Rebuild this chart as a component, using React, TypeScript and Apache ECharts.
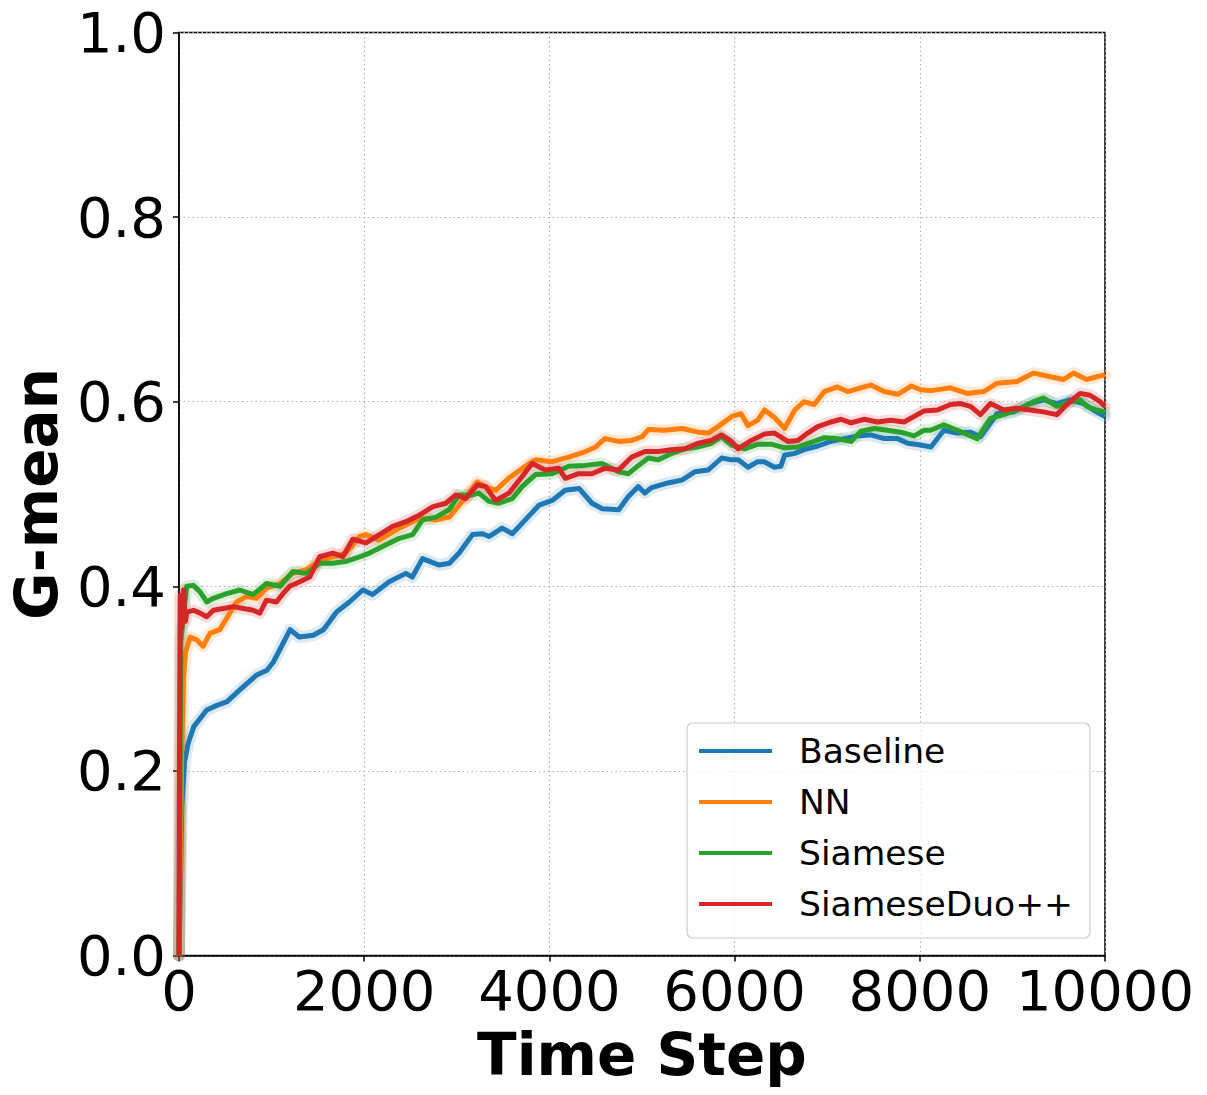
import React, { useEffect, useRef } from "react";
import * as echarts from "echarts";

const seriesNames = ["Baseline", "NN", "Siamese", "SiameseDuo++"];
const seriesColors = ["#1f77b4", "#ff7f0e", "#2ca02c", "#d62728"];

const xTicks = [0, 2000, 4000, 6000, 8000, 10000];
const yTicks = [0, 0.2, 0.4, 0.6, 0.8, 1.0];

const baseline: number[][] = [
  [0, 0.0], [20, 0.1], [30, 0.16], [60, 0.21], [100, 0.23], [160, 0.248], [300, 0.266], [410, 0.271],
  [520, 0.275], [660, 0.288], [840, 0.304], [950, 0.309], [1020, 0.318], [1200, 0.353], [1300, 0.345],
  [1450, 0.347], [1560, 0.353], [1700, 0.372], [1840, 0.383], [1985, 0.396], [2090, 0.391], [2270, 0.405],
  [2450, 0.414], [2520, 0.41], [2630, 0.43], [2810, 0.423], [2920, 0.425], [3025, 0.436], [3170, 0.456],
  [3280, 0.457], [3350, 0.454], [3490, 0.463], [3600, 0.457], [3740, 0.472], [3890, 0.488], [4030, 0.493],
  [4170, 0.504], [4320, 0.506], [4460, 0.49], [4570, 0.484], [4750, 0.483], [4850, 0.497], [4960, 0.508],
  [5030, 0.501], [5105, 0.507], [5280, 0.512], [5430, 0.515], [5570, 0.524], [5715, 0.526], [5860, 0.539],
  [5970, 0.537], [6040, 0.537], [6145, 0.529], [6250, 0.535], [6320, 0.535], [6430, 0.529], [6500, 0.53],
  [6540, 0.542], [6650, 0.544], [6750, 0.548], [6900, 0.552], [7040, 0.557], [7185, 0.56], [7330, 0.563],
  [7470, 0.564], [7615, 0.56], [7760, 0.56], [7870, 0.555], [8010, 0.553], [8120, 0.551], [8260, 0.569],
  [8400, 0.566], [8550, 0.567], [8655, 0.562], [8835, 0.587], [9015, 0.589], [9190, 0.598], [9340, 0.602],
  [9480, 0.598], [9620, 0.602], [9770, 0.598], [9875, 0.591], [10000, 0.584],
];

const nn: number[][] = [
  [0, 0.0], [15, 0.1], [30, 0.22], [48, 0.3], [70, 0.328], [120, 0.345], [190, 0.342], [260, 0.335],
  [335, 0.349], [440, 0.353], [550, 0.371], [620, 0.383], [730, 0.389], [840, 0.387], [945, 0.398],
  [1090, 0.403], [1230, 0.414], [1375, 0.418], [1520, 0.427], [1660, 0.432], [1800, 0.436], [1880, 0.445],
  [1950, 0.454], [2020, 0.456], [2160, 0.45], [2380, 0.463], [2600, 0.474], [2770, 0.472], [2920, 0.475],
  [3060, 0.492], [3220, 0.513], [3310, 0.508], [3420, 0.504], [3560, 0.517], [3710, 0.528], [3850, 0.537],
  [4030, 0.535], [4210, 0.54], [4390, 0.546], [4500, 0.551], [4600, 0.56], [4750, 0.557], [4890, 0.558],
  [5000, 0.562], [5070, 0.57], [5250, 0.569], [5430, 0.571], [5610, 0.567], [5715, 0.566], [5820, 0.573],
  [5970, 0.584], [6070, 0.587], [6145, 0.574], [6250, 0.58], [6324, 0.591], [6430, 0.583], [6540, 0.571],
  [6650, 0.591], [6750, 0.6], [6860, 0.597], [6970, 0.611], [7110, 0.616], [7220, 0.611], [7400, 0.616],
  [7470, 0.618], [7615, 0.611], [7760, 0.608], [7910, 0.617], [8010, 0.613], [8120, 0.612], [8330, 0.615],
  [8510, 0.609], [8690, 0.611], [8835, 0.62], [9050, 0.622], [9230, 0.631], [9410, 0.627], [9550, 0.624],
  [9660, 0.631], [9800, 0.624], [9910, 0.627], [10000, 0.629],
];

const siamese: number[][] = [
  [0, 0.0], [10, 0.15], [20, 0.34], [50, 0.37], [84, 0.4], [156, 0.401], [228, 0.394], [300, 0.383],
  [371, 0.387], [515, 0.392], [658, 0.396], [801, 0.391], [945, 0.403], [1089, 0.4], [1232, 0.416],
  [1375, 0.414], [1519, 0.425], [1662, 0.425], [1805, 0.427], [1949, 0.432], [2057, 0.436], [2236, 0.445],
  [2380, 0.452], [2523, 0.456], [2630, 0.472], [2774, 0.475], [2918, 0.483], [3025, 0.499], [3168, 0.499],
  [3240, 0.501], [3348, 0.492], [3456, 0.49], [3599, 0.495], [3706, 0.508], [3850, 0.521], [4029, 0.522],
  [4209, 0.53], [4387, 0.531], [4567, 0.533], [4747, 0.524], [4854, 0.522], [4962, 0.531], [5069, 0.539],
  [5177, 0.537], [5320, 0.544], [5463, 0.549], [5607, 0.551], [5750, 0.555], [5858, 0.562], [5966, 0.553],
  [6109, 0.549], [6253, 0.554], [6396, 0.554], [6539, 0.55], [6683, 0.551], [6826, 0.556], [6969, 0.561],
  [7113, 0.56], [7257, 0.557], [7364, 0.568], [7508, 0.571], [7651, 0.569], [7794, 0.567], [7938, 0.563],
  [8045, 0.569], [8117, 0.569], [8260, 0.575], [8404, 0.569], [8620, 0.56], [8763, 0.582], [8906, 0.586],
  [9050, 0.591], [9229, 0.6], [9336, 0.604], [9480, 0.595], [9623, 0.6], [9731, 0.602], [9803, 0.595],
  [9911, 0.591], [10000, 0.589],
];

const siameseDuo: number[][] = [
  [0, 0.0], [5, 0.2], [13, 0.39], [30, 0.355], [48, 0.396], [70, 0.362], [84, 0.372], [156, 0.374],
  [228, 0.371], [300, 0.367], [371, 0.374], [479, 0.376], [586, 0.378], [694, 0.376], [801, 0.374],
  [873, 0.371], [945, 0.385], [1052, 0.383], [1124, 0.392], [1196, 0.4], [1304, 0.405], [1411, 0.41],
  [1519, 0.432], [1662, 0.436], [1770, 0.432], [1877, 0.451], [2020, 0.447], [2164, 0.456], [2308, 0.465],
  [2451, 0.47], [2595, 0.477], [2738, 0.486], [2881, 0.49], [2989, 0.499], [3096, 0.495], [3222, 0.51],
  [3312, 0.508], [3419, 0.493], [3563, 0.501], [3706, 0.519], [3814, 0.533], [3957, 0.526], [4101, 0.528],
  [4172, 0.517], [4316, 0.522], [4459, 0.522], [4602, 0.528], [4747, 0.526], [4890, 0.54], [5033, 0.546],
  [5177, 0.546], [5320, 0.548], [5463, 0.549], [5607, 0.555], [5750, 0.558], [5858, 0.564], [5966, 0.557],
  [6038, 0.549], [6181, 0.558], [6324, 0.565], [6432, 0.566], [6575, 0.557], [6683, 0.558], [6790, 0.566],
  [6898, 0.573], [7041, 0.578], [7149, 0.581], [7257, 0.577], [7400, 0.581], [7543, 0.578], [7687, 0.58],
  [7830, 0.578], [7974, 0.586], [8045, 0.59], [8189, 0.591], [8332, 0.597], [8440, 0.598], [8548, 0.595],
  [8655, 0.586], [8763, 0.598], [8906, 0.591], [9050, 0.593], [9193, 0.591], [9336, 0.589], [9480, 0.586],
  [9588, 0.597], [9731, 0.609], [9838, 0.607], [9946, 0.6], [10000, 0.595],
];

const allData = [baseline, nn, siamese, siameseDuo];

const FONT = "DejaVu Sans";

export default function App() {
  const ref = useRef<HTMLDivElement>(null);
  useEffect(() => {
    if (!ref.current) return;
    const chart = echarts.init(ref.current, undefined, { renderer: "svg" });
    const series: any[] = [];
    allData.forEach((d, i) => {
      series.push({
        name: seriesNames[i] + " band",
        type: "line",
        data: d,
        showSymbol: false,
        silent: true,
        color: seriesColors[i],
        lineStyle: { width: 12, opacity: 0.16, join: "round", cap: "round" },
        z: 2,
      });
      series.push({
        name: seriesNames[i],
        type: "line",
        data: d,
        showSymbol: false,
        color: seriesColors[i],
        lineStyle: { width: 5, join: "round" },
        z: 3,
      });
    });
    const gridLine = { show: true, lineStyle: { type: [1.5, 3], color: "#b0b0b0", width: 1.2 } };
    chart.setOption({
      animation: false,
      grid: {
        left: 175.5,
        top: 32.5,
        right: 102,
        bottom: 139.5,
        show: true,
        borderColor: "#000",
        borderWidth: 1.5,
        backgroundColor: "transparent",
      },
      xAxis: {
        type: "value",
        min: 0,
        max: 10000,
        interval: 2000,
        name: "Time Step",
        nameLocation: "middle",
        nameGap: 70,
        nameTextStyle: { fontFamily: FONT, fontSize: 58, fontWeight: "bold", color: "#000" },
        axisLine: { show: true, lineStyle: { color: "#000", width: 1.5 } },
        axisTick: { show: true, length: 6, lineStyle: { color: "#000", width: 1.5 } },
        axisLabel: {
          fontFamily: FONT,
          fontSize: 56,
          color: "#000",
          margin: 7,
          formatter: (v: number) => (xTicks.includes(v) ? String(v) : ""),
        },
        splitLine: gridLine,
      },
      yAxis: {
        type: "value",
        min: 0,
        max: 1,
        interval: 0.2,
        name: "G-mean",
        nameLocation: "middle",
        nameGap: 110,
        nameRotate: 90,
        nameTextStyle: { fontFamily: FONT, fontSize: 58, fontWeight: "bold", color: "#000" },
        axisLine: { show: true, lineStyle: { color: "#000", width: 1.5 } },
        axisTick: { show: true, length: 6, lineStyle: { color: "#000", width: 1.5 } },
        axisLabel: {
          fontFamily: FONT,
          fontSize: 56,
          color: "#000",
          margin: 13,
          formatter: (v: number) => {
            const t = yTicks.find((y) => Math.abs(y - v) < 1e-9);
            return t === undefined ? "" : t.toFixed(1);
          },
        },
        splitLine: gridLine,
      },
      legend: {
        data: seriesNames,
        orient: "vertical",
        left: 687,
        top: 723,
        icon: "rect",
        itemWidth: 73,
        itemHeight: 4,
        itemGap: 11,
        selectedMode: false,
        padding: [8, 17, 14, 12],
        backgroundColor: "rgba(255,255,255,0.8)",
        borderColor: "#cccccc",
        borderWidth: 1.2,
        borderRadius: 6,
        textStyle: {
          fontFamily: FONT,
          fontSize: 34.5,
          color: "#000",
          lineHeight: 40,
          padding: [0, 0, 0, 22],
        },
      },
      series,
    });
    return () => chart.dispose();
  }, []);
  return (
    <div
      ref={ref}
      style={{ position: "absolute", left: 0, top: 0, width: 1207, height: 1095, background: "#fff" }}
    />
  );
}
